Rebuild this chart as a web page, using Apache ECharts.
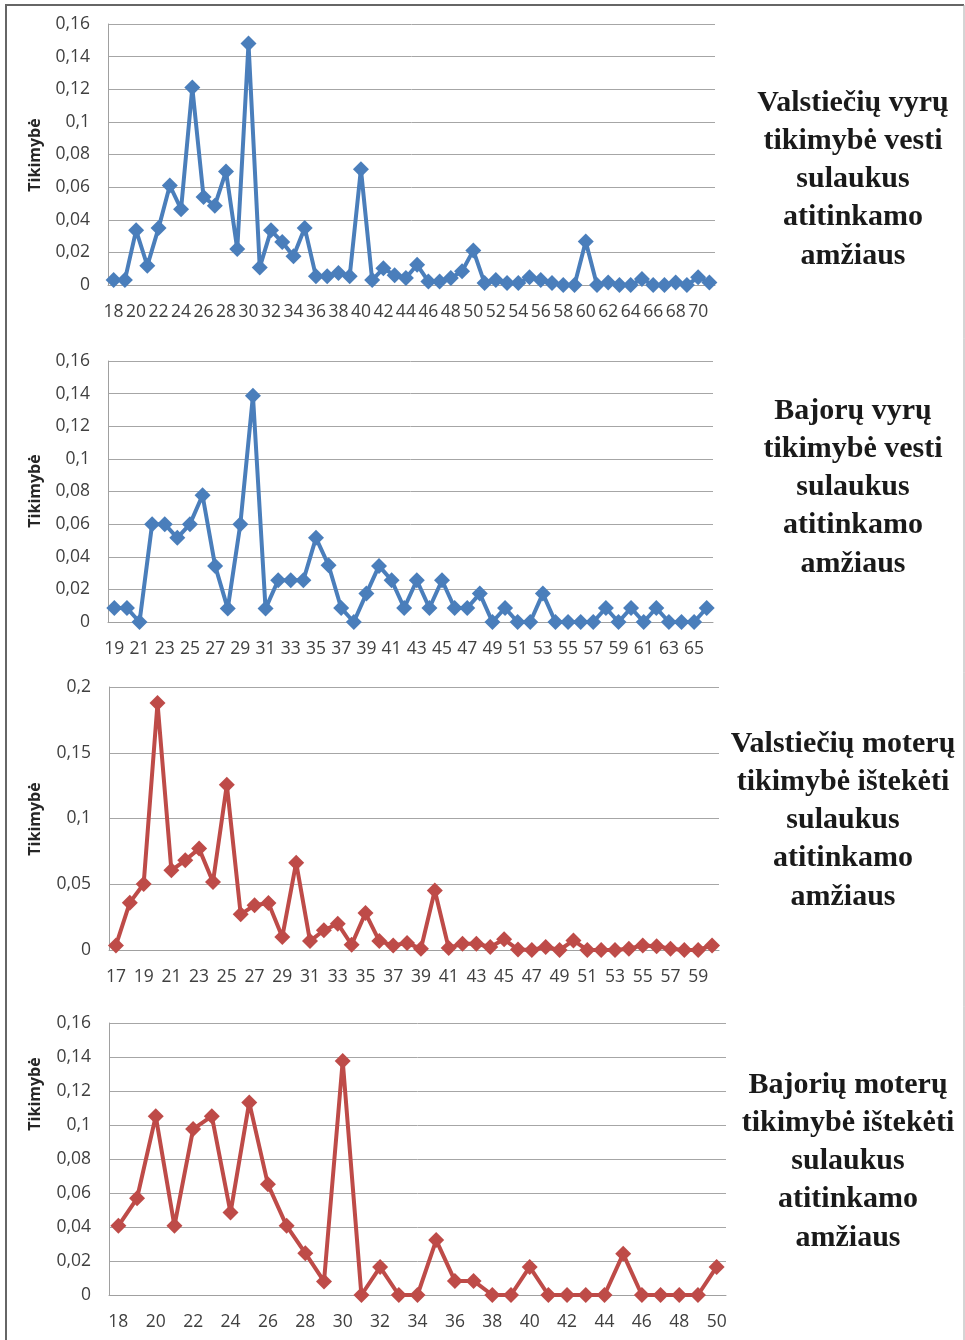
<!DOCTYPE html>
<html>
<head>
<meta charset="utf-8">
<script src="https://cdn.jsdelivr.net/npm/echarts@6/dist/echarts.min.js"></script>
<style>
  html, body { margin: 0; padding: 0; background: #fff; }
  #chart { width: 965px; height: 1340px; }
</style>
</head>
<body>
<div id="chart"></div>
<script>
// ---- Data ----
const ages1 = Array.from({length: 54}, (_, i) => String(18 + i)); // 18..71
const vals1 = [0.003, 0.003, 0.0335, 0.0118, 0.035, 0.061, 0.0465, 0.121, 0.054, 0.0486,
  0.0696, 0.022, 0.148, 0.0108, 0.0335, 0.0263, 0.0176, 0.035, 0.0053, 0.0053,
  0.0073, 0.0053, 0.071, 0.003, 0.0102, 0.006, 0.0043, 0.0124, 0.0022, 0.0022,
  0.0043, 0.0084, 0.0212, 0.0012, 0.003, 0.0012, 0.0012, 0.0047, 0.003, 0.0012,
  0, 0, 0.0267, 0, 0.0016, 0, 0, 0.0037, 0, 0,
  0.0016, 0, 0.0047, 0.0016];

const ages2 = Array.from({length: 48}, (_, i) => String(19 + i)); // 19..66
const vals2 = [0.0086, 0.0086, 0, 0.06, 0.06, 0.0516, 0.06, 0.0777, 0.0344, 0.0082,
  0.06, 0.1387, 0.0082, 0.0256, 0.0256, 0.0256, 0.0516, 0.0348, 0.0086, 0,
  0.0174, 0.0344, 0.0256, 0.0086, 0.0256, 0.0086, 0.0256, 0.0086, 0.0086, 0.0174,
  0, 0.0086, 0, 0, 0.0174, 0, 0, 0, 0, 0.0086,
  0, 0.0086, 0, 0.0086, 0, 0, 0, 0.0086];

const ages3 = Array.from({length: 44}, (_, i) => String(17 + i)); // 17..60
const vals3 = [0.0035, 0.036, 0.0502, 0.1878, 0.0606, 0.0682, 0.0771, 0.0517, 0.1257, 0.0271,
  0.034, 0.0357, 0.0099, 0.0664, 0.0068, 0.015, 0.02, 0.004, 0.0281, 0.0068,
  0.0035, 0.0053, 0.001, 0.0452, 0.0015, 0.0048, 0.0048, 0.0023, 0.0081, 0.0003,
  0, 0.0023, 0, 0.0073, 0, 0, 0, 0.001, 0.0035, 0.0028,
  0.001, 0, 0, 0.0035];

const ages4 = Array.from({length: 33}, (_, i) => String(18 + i)); // 18..50
const vals4 = [0.0407, 0.0569, 0.1052, 0.0407, 0.0976, 0.1052, 0.0485, 0.1133, 0.0651, 0.0407,
  0.0246, 0.008, 0.1377, 0, 0.0164, 0, 0, 0.0323, 0.0083, 0.0083,
  0, 0, 0.0165, 0, 0, 0, 0, 0.0242, 0, 0,
  0, 0, 0.0165];

const yTitle = 'Tikimybė';
const titles = [
  ['Valstiečių vyrų', 'tikimybė vesti', 'sulaukus', 'atitinkamo', 'amžiaus'],
  ['Bajorų vyrų', 'tikimybė vesti', 'sulaukus', 'atitinkamo', 'amžiaus'],
  ['Valstiečių moterų', 'tikimybė ištekėti', 'sulaukus', 'atitinkamo', 'amžiaus'],
  ['Bajorių moterų', 'tikimybė ištekėti', 'sulaukus', 'atitinkamo', 'amžiaus']
];

const BLUE = '#4A7EBB';
const RED = '#BE4B48';

// ---- Layout ----
const grids = [
  {left: 108, top: 24, width: 607, height: 261},
  {left: 108, top: 361, width: 605, height: 261},
  {left: 109, top: 687, width: 610, height: 263},
  {left: 109, top: 1023, width: 617, height: 272}
];
const yMax = [0.16, 0.16, 0.2, 0.16];
const yInt = [0.02, 0.02, 0.05, 0.02];
const cats = [ages1, ages2, ages3, ages4];
const vals = [vals1, vals2, vals3, vals4];
const colors = [BLUE, BLUE, RED, RED];
const yTitleCenter = [155, 491, 819, 1094];
const titleX = [853, 853, 843, 848];
const titleY0 = [103, 411, 744, 1085];

const labelFont = {fontFamily: 'Open Sans', fontSize: 17.5, color: '#404040'};
const fmt = v => String(+(+v).toFixed(3)).replace('.', ',');

const xAxis = [], yAxis = [], series = [];
for (let i = 0; i < 4; i++) {
  xAxis.push({
    type: 'category', gridIndex: i, data: cats[i], boundaryGap: true,
    axisTick: {show: false},
    axisLine: {show: true, lineStyle: {color: '#A0A0A0', width: 1}},
    axisLabel: Object.assign({interval: 1, margin: 18, hideOverlap: false}, labelFont),
    splitLine: {show: false}
  });
  yAxis.push({
    type: 'value', gridIndex: i, min: 0, max: yMax[i], interval: yInt[i],
    axisLine: {show: true, lineStyle: {color: '#A0A0A0', width: 1}},
    axisTick: {show: false},
    axisLabel: Object.assign({formatter: fmt, margin: 18}, labelFont),
    splitLine: {show: true, lineStyle: {color: '#A6A6A6', width: 1}}
  });
  series.push({
    type: 'line', xAxisIndex: i, yAxisIndex: i, data: vals[i],
    symbol: 'diamond', symbolSize: 16, showAllSymbol: true,
    lineStyle: {color: colors[i], width: 4},
    itemStyle: {color: colors[i]},
    animation: false
  });
}

const graphic = [
  {type: 'line', shape: {x1: 5, y1: 5, x2: 964, y2: 5}, style: {stroke: '#666', lineWidth: 2}},
  {type: 'line', shape: {x1: 6, y1: 5, x2: 6, y2: 1340}, style: {stroke: '#666', lineWidth: 2}},
  {type: 'line', shape: {x1: 964, y1: 5, x2: 964, y2: 1340}, style: {stroke: '#AAA', lineWidth: 1}}
];
for (let i = 0; i < 4; i++) {
  graphic.push({
    type: 'text', x: 35, y: yTitleCenter[i], rotation: Math.PI / 2,
    style: {text: yTitle, textAlign: 'center', textVerticalAlign: 'middle',
      font: 'bold 16px "Open Sans"', fill: '#262626'}
  });
  titles[i].forEach((line, k) => {
    graphic.push({
      type: 'text', x: titleX[i], y: titleY0[i] + k * 38.2,
      style: {text: line, textAlign: 'center', textVerticalAlign: 'middle',
        font: 'bold 30px "Liberation Serif"', fill: '#1a1a1a'}
    });
  });
}

const chart = echarts.init(document.getElementById('chart'), null, {renderer: 'canvas'});
chart.setOption({
  backgroundColor: '#fff',
  animation: false,
  grid: grids,
  xAxis, yAxis, series, graphic
});
</script>
</body>
</html>
